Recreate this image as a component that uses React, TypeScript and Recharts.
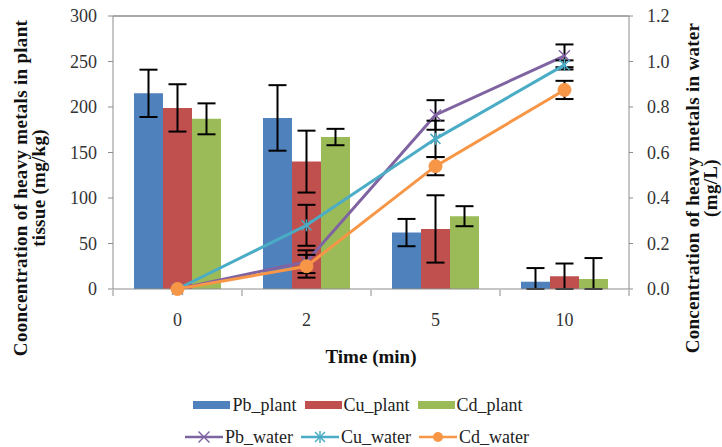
import { Bar, ComposedChart, ErrorBar, Legend, Line, ReferenceLine, XAxis, YAxis } from "recharts"

const categories = ["0", "2", "5", "10"]

const pbPlant = [215, 188, 62, 8]
const pbPlantErr = [26, 36, 15, 15]
const cuPlant = [199, 140, 66, 14]
const cuPlantErr = [26, 34, 37, 14]
const cdPlant = [187, 167, 80, 11]
const cdPlantErr = [17, 9, 11, 23]

const pbWater = [0, 0.12, 0.765, 1.025]
const pbWaterErr = [0, 0.05, 0.065, 0.05]
const cuWater = [0, 0.28, 0.66, 0.985]
const cuWaterErr = [0, 0.09, 0.08, 0.02]
const cdWater = [0, 0.1, 0.54, 0.875]
const cdWaterErr = [0, 0.05, 0.04, 0.04]

const plantTicks = [0, 50, 100, 150, 200, 250, 300]
const waterTicks = [0, 0.2, 0.4, 0.6, 0.8, 1.0, 1.2]

const PB = "#4F81BD"
const CU = "#C0504D"
const CD = "#9BBB59"
const PBW = "#8064A2"
const CUW = "#4BACC6"
const CDW = "#F79646"
const AXIS = "#8c8c8c"
const FONT = "Liberation Serif, DejaVu Serif, serif"

// error bars never go below the baseline
const errPair = (v: number, e: number) => [Math.min(v, e), e]

const data = categories.map((time, i) => ({
  time,
  pbPlant: pbPlant[i],
  pbPlantErr: errPair(pbPlant[i], pbPlantErr[i]),
  cuPlant: cuPlant[i],
  cuPlantErr: errPair(cuPlant[i], cuPlantErr[i]),
  cdPlant: cdPlant[i],
  cdPlantErr: errPair(cdPlant[i], cdPlantErr[i]),
  pbWater: pbWater[i],
  pbWaterErr: pbWaterErr[i],
  cuWater: cuWater[i],
  cuWaterErr: cuWaterErr[i],
  cdWater: cdWater[i],
  cdWaterErr: cdWaterErr[i],
}))

const HALF_BAND = (629 - 113) / categories.length / 2

function TimeTick(props: any) {
  const { x, y, payload, index } = props
  const top = y - 6
  return (
    <g>
      <line x1={x - HALF_BAND} x2={x - HALF_BAND} y1={top - 1} y2={top + 5} stroke={AXIS} />
      {index === categories.length - 1 && (
        <line x1={x + HALF_BAND} x2={x + HALF_BAND} y1={top - 1} y2={top + 5} stroke={AXIS} />
      )}
      <text x={x} y={top + 35} textAnchor="middle" fontSize={18} fontFamily={FONT} fill="#333">
        {payload.value}
      </text>
    </g>
  )
}

function CrossDot(props: any) {
  const { cx, cy, stroke } = props
  if (cx == null || cy == null) return null
  const s = 5.5
  return (
    <g stroke={stroke} strokeWidth={1.5}>
      <line x1={cx - s} y1={cy - s} x2={cx + s} y2={cy + s} />
      <line x1={cx - s} y1={cy + s} x2={cx + s} y2={cy - s} />
    </g>
  )
}

function StarDot(props: any) {
  const { cx, cy, stroke } = props
  if (cx == null || cy == null) return null
  const s = 5
  return (
    <g stroke={stroke} strokeWidth={1.5}>
      <line x1={cx - s} y1={cy - s} x2={cx + s} y2={cy + s} />
      <line x1={cx - s} y1={cy + s} x2={cx + s} y2={cy - s} />
      <line x1={cx} y1={cy - s - 1} x2={cx} y2={cy + s + 1} />
    </g>
  )
}

function CircleDot(props: any) {
  const { cx, cy } = props
  if (cx == null || cy == null) return null
  return <circle cx={cx} cy={cy} r={6.5} fill={CDW} stroke={CDW} />
}

const barItems = [
  { name: "Pb_plant", color: PB },
  { name: "Cu_plant", color: CU },
  { name: "Cd_plant", color: CD },
]
const lineItems = [
  { name: "Pb_water", color: PBW, marker: "cross" },
  { name: "Cu_water", color: CUW, marker: "star" },
  { name: "Cd_water", color: CDW, marker: "circle" },
]

function LegendMarker({ color, marker }: { color: string; marker: string }) {
  return (
    <svg width={38} height={14} style={{ marginRight: 2 }}>
      <line x1={0} x2={38} y1={7} y2={7} stroke={color} strokeWidth={2.5} />
      {marker === "cross" && <CrossDot cx={19} cy={7} stroke={color} />}
      {marker === "star" && <StarDot cx={19} cy={7} stroke={color} />}
      {marker === "circle" && <circle cx={19} cy={7} r={5} fill={color} />}
    </svg>
  )
}

function ChartLegend() {
  const text = { fontFamily: FONT, fontSize: 18, color: "#222", marginRight: 8 }
  return (
    <div style={{ width: 722, display: "flex", flexDirection: "column", alignItems: "center" }}>
      <div style={{ display: "flex", alignItems: "center", height: 30, marginLeft: 2 }}>
        {barItems.map((it) => (
          <div key={it.name} style={{ display: "flex", alignItems: "center" }}>
            <span style={{ width: 37, height: 8, background: it.color, marginRight: 2 }} />
            <span style={text}>{it.name}</span>
          </div>
        ))}
      </div>
      <div style={{ display: "flex", alignItems: "center", height: 34 }}>
        {lineItems.map((it) => (
          <div key={it.name} style={{ display: "flex", alignItems: "center" }}>
            <LegendMarker color={it.color} marker={it.marker} />
            <span style={text}>{it.name}</span>
          </div>
        ))}
      </div>
    </div>
  )
}

function YTitle({ x, lines }: { x: number; lines: string[] }) {
  const cy = 188
  return (
    <g transform={`rotate(-90 ${x} ${cy})`}>
      {lines.map((l, i) => (
        <text
          key={l}
          x={x}
          y={cy + i * 18 + 6}
          textAnchor="middle"
          fontFamily={FONT}
          fontSize={19}
          fontWeight="bold"
          letterSpacing={0.3}
          fill="#111"
        >
          {l}
        </text>
      ))}
    </g>
  )
}

export default function App() {
  return (
    <div style={{ position: "absolute", left: 0, top: 0, width: 722, height: 447, background: "#fff" }}>
      <ComposedChart
        width={722}
        height={447}
        data={data}
        margin={{ top: 16, right: 0, bottom: 0, left: 0 }}
        barCategoryGap={21}
        barGap={0}
      >
        <XAxis
          dataKey="time"
          height={94}
          stroke={AXIS}
          tickLine={false}
          tick={<TimeTick />}
          interval={0}
          label={{
            value: "Time (min)",
            position: "insideBottom",
            offset: 20,
            fill: "#111",
            fontFamily: FONT,
            fontSize: 19,
            fontWeight: "bold",
          }}
        />
        <YAxis
          yAxisId="left"
          width={113}
          domain={[0, 300]}
          ticks={plantTicks}
          interval={0}
          stroke={AXIS}
          tickSize={5}
          tickMargin={11}
          tick={{ fontFamily: FONT, fontSize: 18, fill: "#333" }}
        />
        <YAxis
          yAxisId="right"
          orientation="right"
          width={93}
          domain={[0, 1.2]}
          ticks={waterTicks}
          interval={0}
          stroke={AXIS}
          tickSize={4}
          tickMargin={14}
          tickFormatter={(v: number) => v.toFixed(1)}
          tick={{ fontFamily: FONT, fontSize: 18, fill: "#333", textAnchor: "start" }}
        />
        <ReferenceLine yAxisId="left" y={300} stroke={AXIS} strokeWidth={1.5} />
        <Legend
          content={<ChartLegend />}
          height={64}
          wrapperStyle={{ top: 390, bottom: "auto", left: 0, width: 722, height: 64 }}
        />
        <Bar yAxisId="left" dataKey="pbPlant" name="Pb_plant" fill={PB} isAnimationActive={false}>
          <ErrorBar dataKey="pbPlantErr" width={9} stroke="#000" strokeWidth={2} />
        </Bar>
        <Bar yAxisId="left" dataKey="cuPlant" name="Cu_plant" fill={CU} isAnimationActive={false}>
          <ErrorBar dataKey="cuPlantErr" width={9} stroke="#000" strokeWidth={2} />
        </Bar>
        <Bar yAxisId="left" dataKey="cdPlant" name="Cd_plant" fill={CD} isAnimationActive={false}>
          <ErrorBar dataKey="cdPlantErr" width={9} stroke="#000" strokeWidth={2} />
        </Bar>
        <Line
          yAxisId="right"
          dataKey="pbWater"
          name="Pb_water"
          stroke={PBW}
          strokeWidth={3}
          dot={<CrossDot />}
          isAnimationActive={false}
        >
          <ErrorBar dataKey="pbWaterErr" direction="y" width={9} stroke="#000" strokeWidth={2} />
        </Line>
        <Line
          yAxisId="right"
          dataKey="cuWater"
          name="Cu_water"
          stroke={CUW}
          strokeWidth={3}
          dot={<StarDot />}
          isAnimationActive={false}
        >
          <ErrorBar dataKey="cuWaterErr" direction="y" width={9} stroke="#000" strokeWidth={2} />
        </Line>
        <Line
          yAxisId="right"
          dataKey="cdWater"
          name="Cd_water"
          stroke={CDW}
          strokeWidth={3}
          dot={<CircleDot />}
          isAnimationActive={false}
        >
          <ErrorBar dataKey="cdWaterErr" direction="y" width={9} stroke="#000" strokeWidth={2} />
        </Line>
      </ComposedChart>
      <svg width={722} height={447} style={{ position: "absolute", left: 0, top: 0, pointerEvents: "none" }}>
        <YTitle x={21} lines={["Cooncentration of heavy metals in plant", "tissue (mg/kg)"]} />
        <YTitle x={693} lines={["Concentration of heavy metals in water", "(mg/L)"]} />
      </svg>
    </div>
  )
}
